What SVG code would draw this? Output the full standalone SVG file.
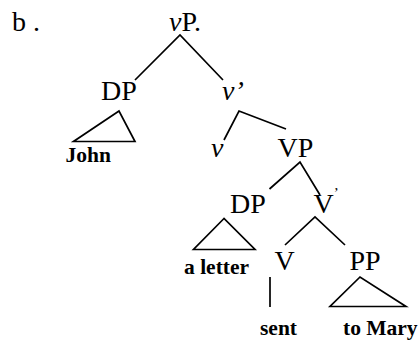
<svg xmlns="http://www.w3.org/2000/svg" width="419" height="341" viewBox="0 0 419 341">
  <style>
    .lbl { font-family: 'Liberation Serif', serif; font-size: 28px; font-weight: normal; fill: #000; }
    .it { font-style: italic; }
    .leaf { font-family: 'Liberation Serif', serif; font-size: 21.5px; font-weight: bold; fill: #000; }
    .edge { stroke: #000; stroke-width: 1.7; fill: none; }
  </style>

  <!-- example marker -->
  <text class="lbl" x="12" y="30.5">b .</text>

  <!-- tree nodes -->
  <g id="vP"><text class="lbl" x="169" y="30.5"><tspan class="it">v</tspan>P.</text></g>
  <g id="DP-subj"><text class="lbl" x="101" y="100">DP</text></g>
  <g id="vbar"><text class="lbl it" x="222" y="100">v’</text></g>
  <g id="John"><text class="leaf" x="65.5" y="162">John</text></g>
  <g id="v"><text class="lbl it" x="211" y="157">v</text></g>
  <g id="VP"><text class="lbl" x="277.5" y="157">VP</text></g>
  <g id="DP-obj"><text class="lbl" x="230" y="213">DP</text></g>
  <g id="Vbar"><text class="lbl" x="313.5" y="213">V<tspan font-size="15" dy="-15">’</tspan></text></g>
  <g id="a-letter"><text class="leaf" x="184" y="274">a letter</text></g>
  <g id="V"><text class="lbl" x="274.5" y="270">V</text></g>
  <g id="PP"><text class="lbl" x="349.5" y="270">PP</text></g>
  <g id="sent"><text class="leaf" x="260" y="335">sent</text></g>
  <g id="to-Mary"><text class="leaf" x="343" y="335">to Mary</text></g>

  <!-- branches and roofs -->
  <g id="connectors" class="edge">
    <polyline points="135,80 180,35 223,80"/>
    <polygon points="119,111 73.5,141.5 135,141.5"/>
    <polyline points="224,140 239,111 286,129"/>
    <polyline points="269.5,189 300,162 320,195"/>
    <polygon points="224,218.5 193.5,249.5 255,249.5"/>
    <polyline points="285,245 315,217 345,245"/>
    <line x1="270" y1="277" x2="270" y2="307"/>
    <polygon points="360,277 330,306.5 406,306.5"/>
  </g>
</svg>
